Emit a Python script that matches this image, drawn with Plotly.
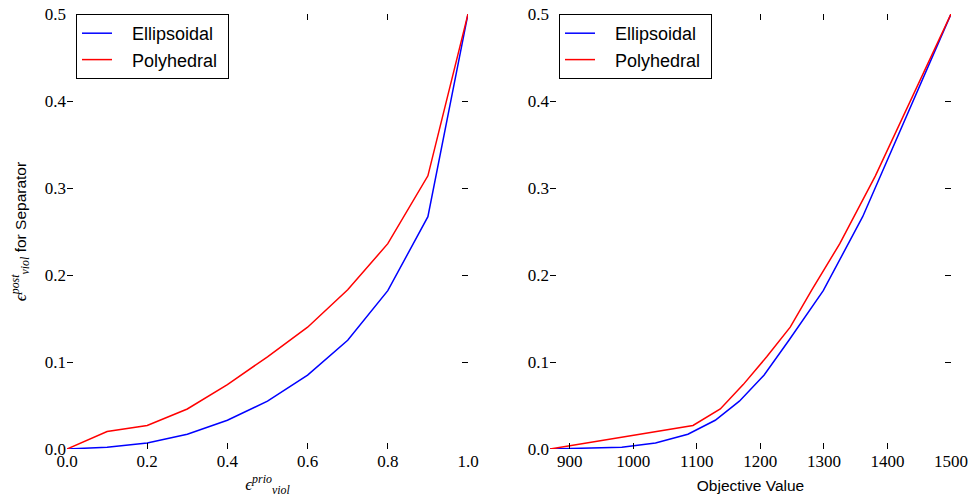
import plotly.graph_objects as go
from plotly.subplots import make_subplots

# Data
eps_prio = [0.0, 0.1, 0.2, 0.3, 0.4, 0.5, 0.6, 0.7, 0.8, 0.9, 1.0]
ell_post = [0.0, 0.002, 0.007, 0.017, 0.033, 0.055, 0.085, 0.125, 0.182, 0.267, 0.5]
poly_post = [0.0, 0.020, 0.027, 0.046, 0.074, 0.106, 0.140, 0.183, 0.236, 0.314, 0.5]
ell_obj = [869, 982, 1035, 1086, 1129, 1167, 1206, 1245, 1299, 1361, 1500]
poly_obj = [869, 1035, 1094, 1137, 1173, 1210, 1247, 1281, 1325, 1381, 1500]

BLUE = "#0000ff"
RED = "#ff0000"
SERIF = "Liberation Serif"
SANS = "Liberation Sans"

W, H = 972, 502
ML, MR, MT, MB = 67, 21, 14, 53
pw = W - ML - MR

PAD = "\u00a0\u00a0\u00a0"
TPAD = "\u00a0"

fig = make_subplots(rows=1, cols=2)
fig.update_layout(
    xaxis=dict(domain=[0, 401 / pw]),
    xaxis2=dict(domain=[(550 - ML) / pw, 1]),
)

fig.add_trace(go.Scatter(x=eps_prio, y=ell_post, mode="lines", name=PAD + "Ellipsoidal" + TPAD,
                         line=dict(color=BLUE, width=1.5), legend="legend"), row=1, col=1)
fig.add_trace(go.Scatter(x=eps_prio, y=poly_post, mode="lines", name=PAD + "Polyhedral" + TPAD,
                         line=dict(color=RED, width=1.5), legend="legend"), row=1, col=1)
fig.add_trace(go.Scatter(x=ell_obj, y=ell_post, mode="lines", name=PAD + "Ellipsoidal" + TPAD,
                         line=dict(color=BLUE, width=1.5), legend="legend2"), row=1, col=2)
fig.add_trace(go.Scatter(x=poly_obj, y=poly_post, mode="lines", name=PAD + "Polyhedral" + TPAD,
                         line=dict(color=RED, width=1.5), legend="legend2"), row=1, col=2)

axis_common = dict(
    showgrid=False, zeroline=False, showline=False,
    ticks="inside", ticklen=6, tickwidth=1, tickcolor="black",
    mirror="ticks", automargin=False,
    tickfont=dict(family=SERIF, size=17, color="black"),
)

fig.update_xaxes(**axis_common)
fig.update_yaxes(**axis_common)

fig.update_xaxes(range=[0, 1], dtick=0.2, tickformat=".1f", row=1, col=1,
                 title=dict(text="<i>ϵ</i><sup><i>prio</i></sup><sub><i>viol</i></sub>",
                            font=dict(family=SERIF, size=17, color="black"), standoff=8))
fig.update_xaxes(range=[869, 1500], tick0=900, dtick=100, row=1, col=2,
                 title=dict(text="Objective Value",
                            font=dict(family=SANS, size=15.5, color="black"), standoff=10))
fig.update_yaxes(range=[0, 0.5], dtick=0.1, tickformat=".1f", row=1, col=1,
                 title=dict(text="<span style='font-family:Liberation Serif;font-size:17px'><i>ϵ</i><sup><i>post</i></sup><sub><i>viol</i></sub></span> for Separator",
                            font=dict(family=SANS, size=15.5, color="black"), standoff=14))
fig.update_yaxes(range=[0, 0.5], dtick=0.1, tickformat=".1f", row=1, col=2)

legend_common = dict(
    y=1, yanchor="top", xanchor="left",
    bordercolor="black", borderwidth=1, bgcolor="white",
    font=dict(family=SANS, size=18, color="black"),
)
fig.update_layout(
    width=W, height=H,
    margin=dict(l=ML, r=MR, t=MT, b=MB),
    paper_bgcolor="white", plot_bgcolor="white",
    legend=dict(x=(76 - ML) / pw, **legend_common),
    legend2=dict(x=(559 - ML) / pw, **legend_common),
)

fig.write_html("out.html")
